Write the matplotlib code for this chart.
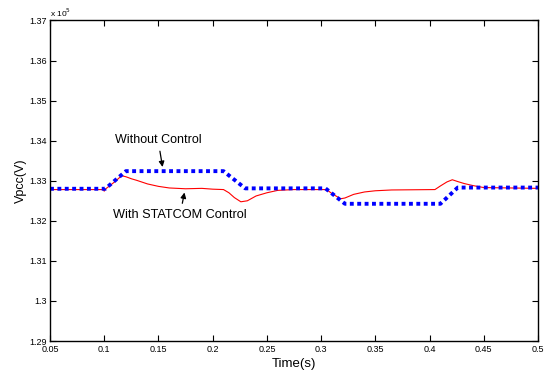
import matplotlib
matplotlib.use('Agg')
import matplotlib.pyplot as plt
from matplotlib.ticker import FuncFormatter, MultipleLocator

plt.rcParams['font.family'] = ['Liberation Sans', 'DejaVu Sans']

# PCC voltage with STATCOM control (V, scaled by 1e5 below)
t_statcom = [0.05, 0.099, 0.1, 0.101, 0.11, 0.116, 0.12, 0.125, 0.13, 0.14,
             0.15, 0.16, 0.175, 0.19, 0.2, 0.21, 0.215, 0.22, 0.226, 0.232,
             0.24, 0.25, 0.26, 0.275, 0.305, 0.31, 0.318, 0.322, 0.33, 0.34,
             0.35, 0.365, 0.405, 0.41, 0.416, 0.421, 0.426, 0.432, 0.44, 0.45,
             0.5]
v_statcom = [1.3278, 1.3278, 1.3274, 1.3279, 1.3298, 1.33125, 1.3310, 1.3305,
             1.3301, 1.3292, 1.3286, 1.3282, 1.3280, 1.3281, 1.3279, 1.3278,
             1.3270, 1.3258, 1.32475, 1.3250, 1.3262, 1.3270, 1.3276, 1.3278,
             1.3278, 1.3268, 1.3255, 1.3257, 1.3266, 1.3272, 1.3275, 1.3277,
             1.3278, 1.3287, 1.3297, 1.33025, 1.3298, 1.3293, 1.3288, 1.3283,
             1.3281]

# PCC voltage without control
t_nocontrol = [0.05, 0.101, 0.12, 0.21, 0.23, 0.304, 0.322, 0.41, 0.426, 0.5]
v_nocontrol = [1.3280, 1.3280, 1.3324, 1.3324, 1.3281, 1.3281, 1.32425,
               1.32425, 1.3283, 1.3283]

scale = 1e5

fig = plt.figure(figsize=(5.46, 3.74), dpi=100)
ax = fig.add_axes([0.0916, 0.0882, 0.8937, 0.857])

ax.plot(t_statcom, [v * scale for v in v_statcom], color='red', linewidth=0.8)
ax.plot(t_nocontrol, [v * scale for v in v_nocontrol], color='blue',
        linewidth=2.8, linestyle=(0, (1, 0.9)))

ax.set_xlim(0.05, 0.5)
ax.set_ylim(1.29 * scale, 1.37 * scale)
ax.xaxis.set_major_locator(MultipleLocator(0.05))
ax.yaxis.set_major_locator(MultipleLocator(0.01 * scale))
ax.xaxis.set_major_formatter(FuncFormatter(lambda x, p: f'{x:g}'))
ax.yaxis.set_major_formatter(FuncFormatter(lambda y, p: f'{round(y / scale, 4):g}'))
ax.tick_params(direction='in', top=True, right=True, labelsize=6.5,
               length=4, width=0.8, pad=2)
ax.tick_params(axis='x', pad=3)
for sp in ax.spines.values():
    sp.set_linewidth(1.0)

ax.text(0.0, 1.005, r'x 10$^5$', transform=ax.transAxes, fontsize=6,
        ha='left', va='bottom')

ax.set_xlabel('Time(s)', fontsize=9.5, labelpad=3)
ax.set_ylabel('Vpcc(V)', fontsize=9, labelpad=2)

arrow = dict(arrowstyle='-|>', color='black', lw=0.9, mutation_scale=8)
ax.annotate('Without Control', xy=(0.1542, 1.33275 * scale),
            xytext=(0.1496, 1.34025 * scale), fontsize=9,
            ha='center', va='center', arrowprops=arrow)
ax.annotate('With STATCOM Control', xy=(0.1745, 1.32775 * scale),
            xytext=(0.1699, 1.3215 * scale), fontsize=9.2,
            ha='center', va='center', arrowprops=arrow)

fig.savefig('out.png', dpi=100)
